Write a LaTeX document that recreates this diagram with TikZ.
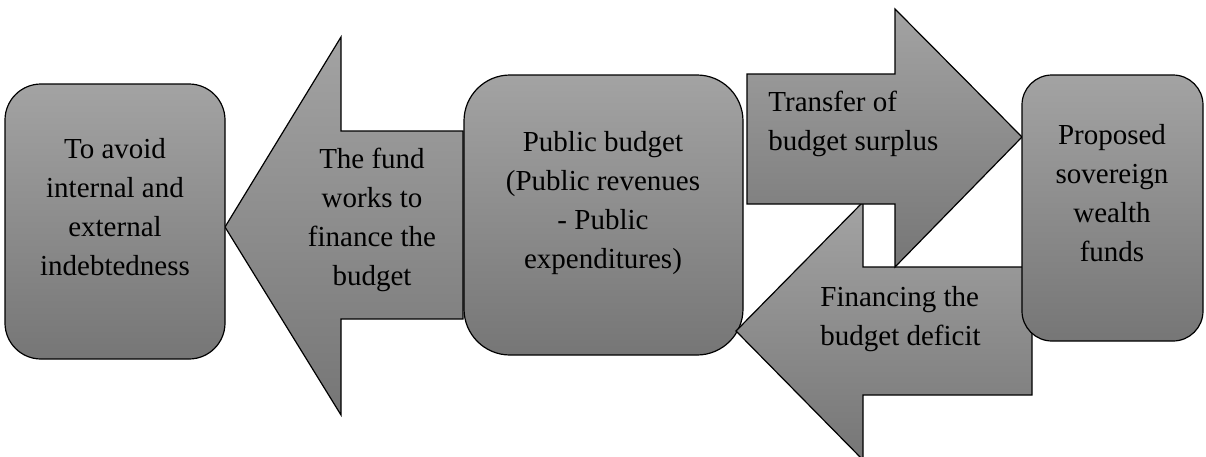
\documentclass[tikz,border=0pt]{standalone}
\usepackage{fontspec}
\setmainfont{Liberation Serif}
\definecolor{gtop}{RGB}{163,163,163}
\definecolor{gbot}{RGB}{118,118,118}
\begin{document}
\begin{tikzpicture}[x=0.5pt,y=-0.5pt,
  shp/.style={draw=black, line width=0.6pt, top color=gtop, bottom color=gbot},
  box/.style={shp, rectangle, inner sep=0pt},
  lbl/.style={font=\fontsize{14.5pt}{19.5pt}\selectfont, align=center, anchor=base, inner sep=0pt},
  lbll/.style={font=\fontsize{14.5pt}{19.5pt}\selectfont, align=left, anchor=base west, inner sep=0pt},
]
\useasboundingbox (0,0) rectangle (1206,456);
% arrow: the fund works to finance the budget
\path[shp] (463,131) -- (341,131) -- (341,37) -- (225,227) -- (341,415) -- (341,319) -- (463,319) -- cycle;
% boxes 1 and 2
\node[box, rounded corners=18pt, minimum width=110pt, minimum height=137.5pt] (avoid) at (115,221.5) {};
\node[box, rounded corners=23pt, minimum width=139.5pt, minimum height=140pt] (budget) at (603.5,215) {};
% arrow: financing the budget deficit
\path[shp] (1032,267) -- (863,267) -- (863,202) -- (736,331) -- (863,460) -- (863,395) -- (1032,395) -- cycle;
% arrow: transfer of budget surplus
\path[shp] (747,74) -- (895,74) -- (895,9) -- (1022,137) -- (895,267) -- (895,204) -- (747,204) -- cycle;
% box 3
\node[box, rounded corners=15pt, minimum width=90.5pt, minimum height=133pt] (swf) at (1112.5,208) {};
% labels (base anchor = baseline of last line)
\node[lbl] (tavoid) at (115,275) {To avoid\\internal and\\external\\indebtedness};
\node[lbl] (tfund) at (372,285) {The fund\\works to\\finance the\\budget};
\node[lbl] (tbudget) at (603,268) {Public budget\\(Public revenues\\- Public\\expenditures)};
\node[lbll] (ttransfer) at (768,150) {Transfer of\\budget surplus};
\node[lbll] (tfin) at (820,345) {Financing the\\budget deficit};
\node[lbl] (tswf) at (1112,261) {Proposed\\sovereign\\wealth\\funds};
\end{tikzpicture}
\end{document}
